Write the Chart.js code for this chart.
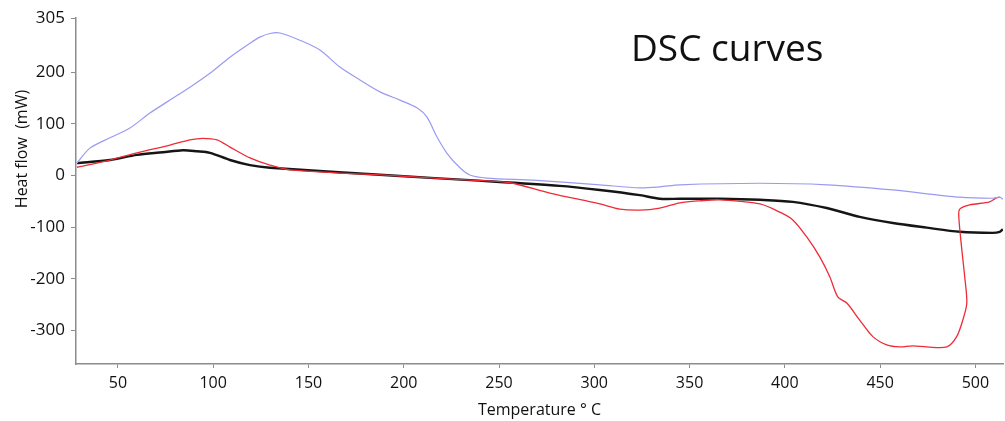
<!DOCTYPE html>
<html>
<head>
<meta charset="utf-8">
<script src="https://cdn.jsdelivr.net/npm/chart.js@4.4.1/dist/chart.umd.min.js"></script>
<style>
  html, body { margin: 0; padding: 0; background: #fff; }
  #wrap { position: relative; width: 1005px; height: 421px; }
</style>
</head>
<body>
<div id="wrap"><canvas id="dscChart" width="1005" height="421"></canvas></div>
<script>
// DSC egri chiziqlari — uchta o'lchov, harorat (°C) va issiqlik oqimi (mW)

const titleText = 'DSC curves';
const xAxisTitle = 'Temperature \u00b0 C';
const yAxisTitle = 'Heat flow  (mW)';

const xTicks = [50, 100, 150, 200, 250, 300, 350, 400, 450, 500];
const yTicks = [-300, -200, -100, 0, 100, 200, 305];

// ko'k (lavanda) chiziq
const blueT = [28.5, 35.3, 45.8, 56.3, 66.8, 77.3, 87.8, 98.3, 108.8, 119.3, 124.5, 129.8, 135.0, 145.5, 156.0, 166.5, 177.0, 187.5, 198.0, 206.9, 212.2, 217.4, 222.7, 229.5, 234.7, 243.6, 267.8, 302.9, 323.9, 334.4, 344.9, 386.9, 422.0, 456.7, 491.8, 509.1, 512.8, 514.4];
const blueV = [24, 53, 73, 92, 121, 146, 171, 198, 229, 256, 268, 275, 276, 262, 243, 210, 185, 162, 146, 131, 113, 75, 43, 15, 1, -5, -9, -18, -24, -22, -18, -15, -18, -28, -42, -44, -42, -46];

// qizil chiziq (oxirida orqaga qaytadi)
const redT = [28.5, 45.8, 60.0, 77.3, 87.8, 94.6, 102.0, 108.8, 119.3, 129.8, 140.3, 198.0, 234.7, 255.7, 276.7, 302.9, 313.4, 323.9, 334.4, 344.9, 355.4, 365.9, 386.9, 397.4, 404.2, 411.5, 418.4, 423.6, 427.8, 432.5, 439.3, 446.2, 453.5, 460.3, 467.1, 474.5, 485.0, 490.2, 493.4, 495.5, 494.4, 492.9, 491.3, 491.8, 497.0, 507.5, 511.2, 512.8];
const redV = [16, 30, 44, 59, 69, 72, 69, 55, 34, 20, 11, -1, -9, -14, -34, -55, -65, -67, -63, -53, -49, -47, -55, -71, -86, -119, -158, -196, -235, -247, -280, -312, -328, -332, -330, -332, -332, -312, -280, -247, -196, -144, -80, -65, -57, -51, -43, -42];

// qora (qalin) chiziq
const blackT = [28.5, 45.8, 60.0, 73.6, 84.1, 91.5, 98.3, 108.8, 119.3, 129.8, 198.0, 234.7, 281.9, 302.9, 323.9, 334.4, 344.9, 365.9, 386.9, 404.2, 422.0, 439.3, 456.7, 474.5, 491.8, 509.1, 512.8, 514.4];
const blackV = [24, 30, 40, 45, 49, 47, 44, 30, 20, 15, -1, -9, -20, -28, -38, -45, -45, -45, -47, -51, -63, -80, -92, -101, -109, -111, -109, -104];

function toPoints(xs, ys) {
    return xs.map((x, i) => ({ x: x, y: ys[i] }));
}

const FONT = "'Open Sans', 'DejaVu Sans', sans-serif";

const textPlugin = {
    id: 'dscText',
    afterDraw(chart) {
        const ctx = chart.ctx;
        ctx.save();
        ctx.fillStyle = '#111';
        ctx.font = '37px ' + FONT;
        ctx.textAlign = 'left';
        ctx.textBaseline = 'alphabetic';
        ctx.fillText(titleText, 631, 61);

        ctx.translate(22, 149);
        ctx.rotate(-Math.PI / 2);
        ctx.font = '16px ' + FONT;
        ctx.textAlign = 'center';
        ctx.textBaseline = 'middle';
        ctx.fillText(yAxisTitle, 0, 0);
        ctx.restore();
    }
};

new Chart(document.getElementById('dscChart').getContext('2d'), {
    type: 'line',
    data: {
        datasets: [
            {
                label: 'blue',
                data: toPoints(blueT, blueV),
                borderColor: '#9a9af2',
                borderWidth: 1.2,
                pointRadius: 0,
                tension: 0.3,
            },
            {
                label: 'red',
                data: toPoints(redT, redV),
                borderColor: '#ee2b36',
                borderWidth: 1.3,
                pointRadius: 0,
                tension: 0.3,
            },
            {
                label: 'black',
                data: toPoints(blackT, blackV),
                borderColor: '#151515',
                borderWidth: 2.4,
                pointRadius: 0,
                tension: 0.3,
            },
        ],
    },
    options: {
        responsive: false,
        animation: false,
        layout: { padding: { top: 18, right: 2, left: 0, bottom: 0 } },
        plugins: {
            legend: { display: false },
            tooltip: { enabled: false },
        },
        scales: {
            x: {
                type: 'linear',
                min: 28,
                max: 514.5,
                afterBuildTicks: (scale) => { scale.ticks = xTicks.map(v => ({ value: v })); },
                afterFit: (scale) => { scale.height = 57; },
                grid: { display: true, drawOnChartArea: false, tickLength: 4, color: '#8c8c8c' },
                border: { color: '#8c8c8c', width: 1.5 },
                ticks: { color: '#111', font: { size: 16, family: FONT }, padding: 6, maxRotation: 0 },
                title: {
                    display: true,
                    text: xAxisTitle,
                    color: '#111',
                    font: { size: 16, family: FONT },
                    padding: { top: 0, bottom: 1 },
                },
            },
            y: {
                type: 'linear',
                min: -365,
                max: 305,
                afterBuildTicks: (scale) => { scale.ticks = yTicks.map(v => ({ value: v })); },
                afterFit: (scale) => { scale.width = 76; },
                grid: { display: true, drawOnChartArea: false, tickLength: 5, color: '#8c8c8c' },
                border: { color: '#8c8c8c', width: 1.5 },
                ticks: { color: '#111', font: { size: 17, family: FONT }, padding: 6 },
            },
        },
    },
    plugins: [textPlugin],
});
</script>
</body>
</html>
